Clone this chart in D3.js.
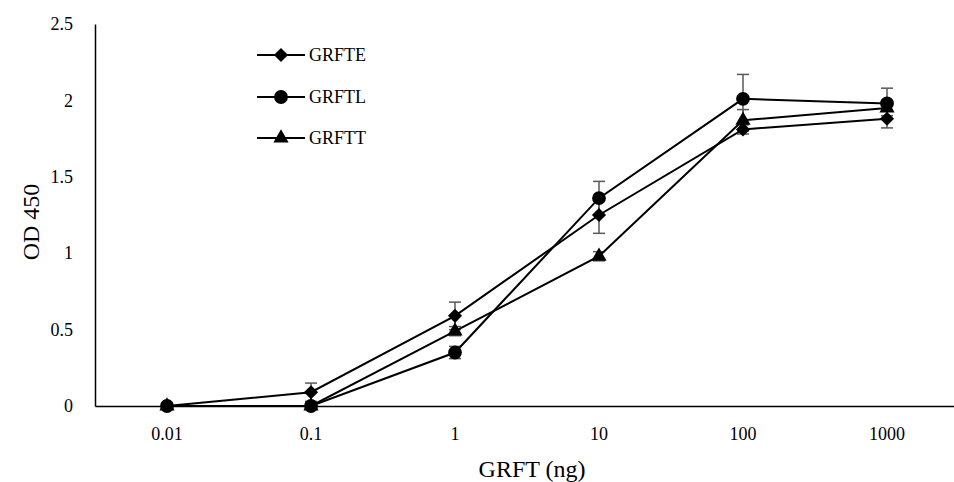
<!DOCTYPE html>
<html>
<head>
<meta charset="utf-8">
<script src="https://cdn.jsdelivr.net/npm/d3@7"></script>
<style>
  body { margin: 0; background: #fff; }
  #canvas { width: 954px; height: 482px; }
  svg text { font-family: "Liberation Serif", "DejaVu Serif", "Times New Roman", Times, serif; fill: #000; }
</style>
</head>
<body>
<div id="canvas"></div>
<script>
const doses = ["0.01", "0.1", "1", "10", "100", "1000"];
const grfte = [0, 0.09, 0.59, 1.25, 1.81, 1.88];
const grfteErr = [0, 0.06, 0.09, 0.12, 0.03, 0.06];
const grftl = [0, 0, 0.35, 1.36, 2.01, 1.98];
const grftlErr = [0, 0, 0.04, 0.11, 0.16, 0.10];
const grftt = [0, 0, 0.49, 0.98, 1.87, 1.95];
const grfttErr = [0, 0, 0.03, 0.03, 0.07, 0.05];
const yTicks = [0, 0.5, 1, 1.5, 2, 2.5];

const serif = "'Liberation Serif', 'DejaVu Serif', 'Times New Roman', serif";

// diamond = square turned 45 degrees
const series = [
    {name: "GRFTE", values: grfte, err: grfteErr, symbol: d3.symbolSquare, size: 100, rot: 45},
    {name: "GRFTL", values: grftl, err: grftlErr, symbol: d3.symbolCircle, size: 150, rot: 0},
    {name: "GRFTT", values: grftt, err: grfttErr, symbol: d3.symbolTriangle, size: 100, rot: 0}
];

const svg = d3.select("#canvas")
.append("svg")
.attr("width", 954)
.attr("height", 482);

const x = d3.scaleBand().domain(doses).range([95, 959]).padding(0);
const y = d3.scaleLinear().domain([0, 2.5]).range([406, 24]);
const cx = d => x(d) + x.bandwidth() / 2;

// Axes
const yAxis = svg.append("g")
.attr("transform", "translate(95,0)")
.call(d3.axisLeft(y).tickValues(yTicks).tickSize(0).tickPadding(22).tickFormat(d3.format("")));
const xAxis = svg.append("g")
.attr("transform", "translate(0,406)")
.call(d3.axisBottom(x).tickSize(0).tickPadding(21));
[yAxis, xAxis].forEach(function(a) {
    a.attr("font-family", serif).attr("font-size", 18);
    a.select(".domain").attr("stroke", "#000").attr("stroke-width", 1.5);
});

svg.append("text")
.attr("x", 532)
.attr("y", 477)
.attr("text-anchor", "middle")
.attr("font-family", serif)
.attr("font-size", 24)
.text("GRFT (ng)");

svg.append("text")
.attr("transform", "translate(39,222) rotate(-90)")
.attr("text-anchor", "middle")
.attr("font-family", serif)
.attr("font-size", 24)
.text("OD 450");

// Error bars
series.forEach(function(s) {
    s.values.forEach(function(v, i) {
        if (s.err[i] <= 0) return;
        const px = cx(doses[i]);
        const g = svg.append("g").attr("stroke", "#595959").attr("stroke-width", 1.5);
        g.append("line").attr("x1", px).attr("x2", px).attr("y1", y(v - s.err[i])).attr("y2", y(v + s.err[i]));
        [v - s.err[i], v + s.err[i]].forEach(function(e) {
            g.append("line").attr("x1", px - 6).attr("x2", px + 6).attr("y1", y(e)).attr("y2", y(e));
        });
    });
});

// Lines and markers
const line = d3.line().x((d, i) => cx(doses[i])).y(d => y(d));
series.forEach(function(s) {
    svg.append("path")
    .attr("d", line(s.values))
    .attr("fill", "none")
    .attr("stroke", "#000")
    .attr("stroke-width", 2);
    svg.selectAll(null)
    .data(s.values)
    .enter()
    .append("path")
    .attr("d", d3.symbol().type(s.symbol).size(s.size))
    .attr("transform", (d, i) => "translate(" + cx(doses[i]) + "," + y(d) + ") rotate(" + s.rot + ")")
    .attr("fill", "#000");
});

// Legend
const legendY = [55, 97, 138];
series.forEach(function(s, i) {
    const g = svg.append("g").attr("transform", "translate(0," + legendY[i] + ")");
    g.append("line").attr("x1", 257).attr("x2", 305).attr("y1", 0).attr("y2", 0)
    .attr("stroke", "#000").attr("stroke-width", 2);
    g.append("path").attr("d", d3.symbol().type(s.symbol).size(s.size))
    .attr("transform", "translate(281,0) rotate(" + s.rot + ")").attr("fill", "#000");
    g.append("text").attr("x", 309).attr("y", 6)
    .attr("font-family", serif).attr("font-size", 18).text(s.name);
});
</script>
</body>
</html>
